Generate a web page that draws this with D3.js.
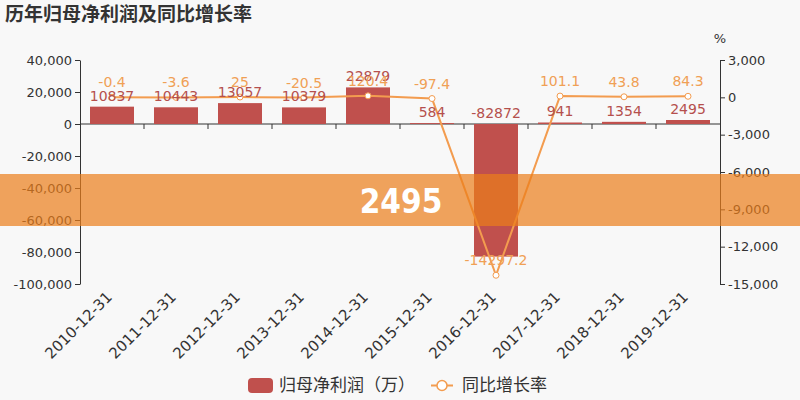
<!DOCTYPE html>
<html>
<head>
<meta charset="utf-8">
<script src="https://cdn.jsdelivr.net/npm/d3@7"></script>
<style>
    body { margin: 0; background: #f8f8f8; }
    #chart { width: 800px; height: 400px; }
    text { font-family: "DejaVu Sans", sans-serif; }
    .cjk { font-family: "Noto Sans CJK SC", sans-serif; }
</style>
</head>
<body>
<div id="chart"></div>
<script>
// data
let years = ["2010-12-31", "2011-12-31", "2012-12-31", "2013-12-31", "2014-12-31",
             "2015-12-31", "2016-12-31", "2017-12-31", "2018-12-31", "2019-12-31"];
let profit = [10837, 10443, 13057, 10379, 22879, 584, -82872, 941, 1354, 2495];
let growth = [-0.4, -3.6, 25, -20.5, 120.4, -97.4, -14297.2, 101.1, 43.8, 84.3];
let leftTicks = [40000, 20000, 0, -20000, -40000, -60000, -80000, -100000];
let rightTicks = [3000, 0, -3000, -6000, -9000, -12000, -15000];
let bannerText = "2495";

let barColor = "#c0504d";
let lineColor = "#f39c4f";

let margin = {top: 60, right: 80, bottom: 116, left: 80};
let width = 800 - margin.left - margin.right;
let height = 400 - margin.top - margin.bottom;

let svg = d3.select("#chart").append("svg")
    .attr("width", 800)
    .attr("height", 400);

let fmt = d => d3.format(",")(d).replace("\u2212", "-");

// title
svg.append("text")
    .attr("class", "cjk")
    .attr("x", 5)
    .attr("y", 21)
    .attr("font-size", 19)
    .attr("font-weight", "bold")
    .attr("fill", "#333")
    .text("历年归母净利润及同比增长率");

let g = svg.append("g")
    .attr("transform", "translate(" + margin.left + "," + margin.top + ")");

// scales
let x = d3.scaleBand().domain(years).range([0, width]);
let y = d3.scaleLinear().domain([-100000, 40000]).range([height, 0]);
let y2 = d3.scaleLinear().domain([-15000, 3000]).range([height, 0]);

// left axis
let yAxis = g.append("g")
    .call(d3.axisLeft(y).tickValues(leftTicks).tickFormat(fmt).tickSize(5).tickSizeOuter(0));
// right axis
let y2Axis = g.append("g")
    .attr("transform", "translate(" + width + ",0)")
    .call(d3.axisRight(y2).tickValues(rightTicks).tickFormat(fmt).tickSize(5).tickSizeOuter(0));

[yAxis, y2Axis].forEach(a => {
    a.select(".domain").attr("stroke", "#333");
    a.selectAll(".tick line").attr("stroke", "#333");
    a.selectAll(".tick text").attr("font-size", 13).attr("fill", "#333");
});

g.append("text")
    .attr("x", width)
    .attr("y", -17)
    .attr("text-anchor", "middle")
    .attr("font-size", 13)
    .attr("fill", "#333")
    .text("%");

// x axis on zero line
g.append("line")
    .attr("x1", 0).attr("x2", width)
    .attr("y1", y(0)).attr("y2", y(0))
    .attr("stroke", "#333");
g.selectAll(".xtick")
    .data(years.slice(1))
    .enter().append("line")
    .attr("x1", d => x(d)).attr("x2", d => x(d))
    .attr("y1", y(0)).attr("y2", y(0) + 5)
    .attr("stroke", "#333");

g.selectAll(".xlabel")
    .data(years)
    .enter().append("text")
    .attr("text-anchor", "end")
    .attr("font-size", 15)
    .attr("fill", "#333")
    .attr("transform", d => "translate(" + (x(d) + x.bandwidth() / 2 + 1) + "," + (height + 14) + ") rotate(-45)")
    .text(d => d);

// bars
let barW = 44;
g.selectAll(".bar")
    .data(profit)
    .enter().append("rect")
    .attr("x", (d, i) => x(years[i]) + (x.bandwidth() - barW) / 2)
    .attr("y", d => y(Math.max(d, 0)))
    .attr("width", barW)
    .attr("height", d => Math.abs(y(d) - y(0)))
    .attr("fill", barColor);

// line
let line = d3.line()
    .x((d, i) => x(years[i]) + x.bandwidth() / 2)
    .y(d => y2(d));
g.append("path")
    .datum(growth)
    .attr("d", line)
    .attr("fill", "none")
    .attr("stroke", lineColor)
    .attr("stroke-width", 2);

g.selectAll(".dot")
    .data(growth)
    .enter().append("circle")
    .attr("cx", (d, i) => x(years[i]) + x.bandwidth() / 2)
    .attr("cy", d => y2(d))
    .attr("r", 3)
    .attr("fill", "#fff")
    .attr("stroke", lineColor)
    .attr("stroke-width", 1);

// bar labels
g.selectAll(".barlabel")
    .data(profit)
    .enter().append("text")
    .attr("x", (d, i) => x(years[i]) + x.bandwidth() / 2)
    .attr("y", d => y(Math.max(d, 0)) - 6)
    .attr("text-anchor", "middle")
    .attr("font-size", 14)
    .attr("fill", "#b5504d")
    .text(d => String(d));

// line labels
g.selectAll(".linelabel")
    .data(growth)
    .enter().append("text")
    .attr("x", (d, i) => x(years[i]) + x.bandwidth() / 2)
    .attr("y", d => y2(d) - 10)
    .attr("text-anchor", "middle")
    .attr("font-size", 14)
    .attr("fill", "#f0a055")
    .text(d => String(d));

// legend
let legend = svg.append("g");
legend.append("rect")
    .attr("x", 248).attr("y", 378)
    .attr("width", 25).attr("height", 15)
    .attr("rx", 4)
    .attr("fill", barColor);
legend.append("text")
    .attr("class", "cjk")
    .attr("x", 279).attr("y", 391)
    .attr("font-size", 17)
    .attr("fill", "#333")
    .text("归母净利润（万）");
legend.append("line")
    .attr("x1", 431).attr("x2", 453)
    .attr("y1", 385.5).attr("y2", 385.5)
    .attr("stroke", lineColor)
    .attr("stroke-width", 2);
legend.append("circle")
    .attr("cx", 442).attr("cy", 385.5)
    .attr("r", 5)
    .attr("fill", "#fff")
    .attr("stroke", lineColor)
    .attr("stroke-width", 1.5);
legend.append("text")
    .attr("class", "cjk")
    .attr("x", 462).attr("y", 391)
    .attr("font-size", 17)
    .attr("fill", "#333")
    .text("同比增长率");

// highlight banner
svg.append("rect")
    .attr("x", 0).attr("y", 174)
    .attr("width", 800).attr("height", 52)
    .attr("fill", "rgb(235,125,25)")
    .attr("opacity", 0.7);
svg.append("text")
    .attr("x", 401).attr("y", 213)
    .attr("text-anchor", "middle")
    .attr("font-size", 33)
    .attr("font-weight", "bold")
    .attr("fill", "#fff")
    .style("font-family", "'DejaVu Sans Condensed', 'DejaVu Sans', sans-serif")
    .style("font-stretch", "condensed")
    .text(bannerText);
</script>
</body>
</html>
